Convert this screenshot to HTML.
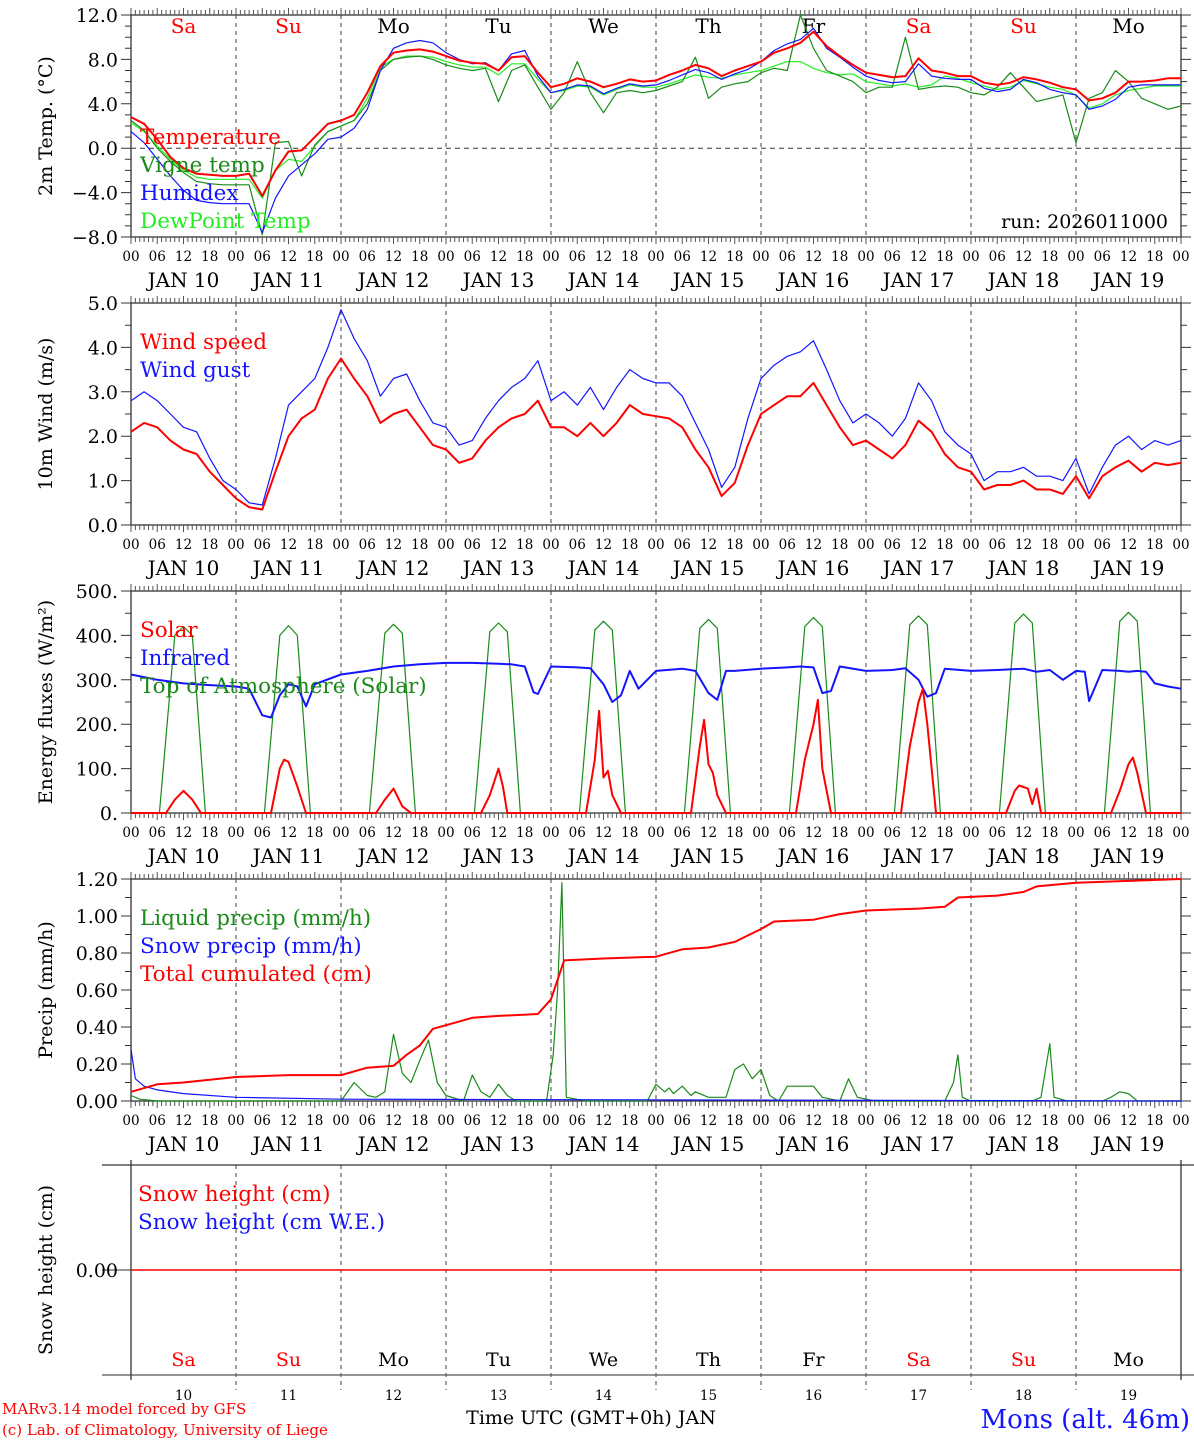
<!DOCTYPE html>
<html><head><meta charset="utf-8"><style>
html,body{margin:0;padding:0;background:#fff;width:1194px;height:1440px;overflow:hidden}
svg{display:block;font-family:"DejaVu Serif","Liberation Serif",serif}
</style></head><body>
<svg id="c" width="1194" height="1440" viewBox="0 0 1194 1440"></svg>
<script>
// ---------- data ----------
const days = ["10","11","12","13","14","15","16","17","18","19"];
const dayNames = ["Sa","Su","Mo","Tu","We","Th","Fr","Sa","Su","Mo"];
const dayColors = ["#f00","#f00","#000","#000","#000","#000","#000","#f00","#f00","#000"];
// temperature, 3-hourly from JAN 10 00 UTC (81 values)
const tempT = [2.8,2.2,0.8,-0.8,-1.8,-2.3,-2.4,-2.5, -2.5,-2.3,-4.3,-2.0,-0.3,-0.2,1.0,2.2, 2.5,3.0,5.0,7.4,8.6,8.8,8.9,8.7, 8.3,7.9,7.7,7.6,7.0,8.2,8.3,6.8, 5.5,5.8,6.3,6.0,5.5,5.8,6.2,6.0, 6.1,6.6,7.0,7.5,7.2,6.5,7.0,7.4, 7.8,8.6,9.0,9.5,10.5,9.2,8.3,7.5, 6.8,6.6,6.4,6.5,8.1,7.0,6.8,6.5, 6.5,5.9,5.7,5.9,6.4,6.2,5.9,5.5, 5.3,4.3,4.5,5.0,6.0,6.0,6.1,6.3,6.3];
const tempVigne = [2.5,1.6,0.0,-1.2,-2.2,-3.0,-3.2,-3.3, -3.3,-3.3,-7.8,0.5,0.6,-2.5,0.3,1.5, 2.0,2.5,4.0,7.0,8.0,8.2,8.3,8.0, 7.5,7.2,7.0,7.2,4.2,7.0,7.5,5.5, 3.5,5.0,7.8,5.0,3.2,5.0,5.2,5.0, 5.2,5.6,6.0,8.2,4.5,5.5,5.8,6.0, 6.8,7.2,7.0,12.0,9.0,7.0,6.5,6.0, 5.0,5.5,5.5,10.0,5.3,5.5,5.6,5.5, 5.0,4.8,5.5,6.8,5.5,4.2,4.5,4.8, 0.5,4.5,5.0,7.0,6.0,4.5,4.0,3.5,3.8];
const tempHumidex = [1.5,0.5,-1.0,-2.5,-3.8,-4.7,-4.9,-5.0, -5.0,-5.0,-7.6,-4.5,-2.5,-1.5,-0.5,0.8, 1.0,1.8,3.5,7.0,9.0,9.5,9.7,9.5, 8.6,8.0,7.6,7.7,7.0,8.5,8.8,6.5, 5.0,5.3,5.7,5.6,4.9,5.4,5.8,5.6, 5.7,6.1,6.6,7.1,6.8,6.2,6.7,7.1, 7.8,8.8,9.4,9.8,10.8,9.0,8.2,7.3, 6.5,6.1,5.9,6.0,7.6,6.5,6.3,6.2, 6.2,5.4,5.1,5.3,6.2,5.9,5.3,5.0, 4.8,3.5,3.8,4.4,5.5,5.7,5.7,5.7,5.7];
const tempDew = [2.3,1.5,0.2,-1.0,-2.0,-2.6,-2.8,-2.8, -2.8,-2.8,-4.5,-2.0,-1.0,-1.2,0.2,1.5, 2.0,2.5,4.5,7.3,8.0,8.3,8.3,8.2, 7.8,7.5,7.3,7.3,6.6,7.6,7.6,6.2, 5.0,5.2,5.6,5.5,4.8,5.3,5.7,5.5, 5.5,5.8,6.2,6.6,6.4,6.3,6.6,6.8, 7.0,7.4,7.8,7.8,7.2,6.8,6.6,6.7, 6.0,5.8,5.6,5.8,5.5,5.7,6.5,6.3, 5.9,5.6,5.3,5.5,6.1,5.8,5.5,5.3, 4.8,3.6,4.0,4.8,5.2,5.4,5.6,5.6,5.6];
// wind, 3-hourly
const windSpeed = [2.1,2.3,2.2,1.9,1.7,1.6,1.2,0.9, 0.6,0.4,0.35,1.2,2.0,2.4,2.6,3.3, 3.75,3.3,2.9,2.3,2.5,2.6,2.2,1.8, 1.7,1.4,1.5,1.9,2.2,2.4,2.5,2.8, 2.2,2.2,2.0,2.3,2.0,2.3,2.7,2.5, 2.45,2.4,2.2,1.7,1.3,0.65,0.95,1.8, 2.5,2.7,2.9,2.9,3.2,2.7,2.2,1.8, 1.9,1.7,1.5,1.8,2.35,2.1,1.6,1.3, 1.2,0.8,0.9,0.9,1.0,0.8,0.8,0.7, 1.1,0.6,1.1,1.3,1.45,1.2,1.4,1.35,1.4];
const windGust = [2.8,3.0,2.8,2.5,2.2,2.1,1.5,1.0, 0.8,0.5,0.45,1.5,2.7,3.0,3.3,4.0, 4.85,4.2,3.7,2.9,3.3,3.4,2.8,2.3, 2.2,1.8,1.9,2.4,2.8,3.1,3.3,3.7, 2.8,3.0,2.7,3.1,2.6,3.1,3.5,3.3, 3.2,3.2,2.9,2.3,1.7,0.85,1.3,2.4, 3.3,3.6,3.8,3.9,4.15,3.5,2.8,2.3, 2.5,2.3,2.0,2.4,3.2,2.8,2.1,1.8, 1.6,1.0,1.2,1.2,1.3,1.1,1.1,1.0, 1.5,0.7,1.3,1.8,2.0,1.7,1.9,1.8,1.9];
// energy fluxes: hours since JAN 10 00 and values
const toaHours = [0,6.5,10,12,14,17, 30.5,34,36,38,41, 54.5,58,60,62,65, 78.5,82,84,86,89, 102.5,106,108,110,113, 126.5,130,132,134,137, 150.5,154,156,158,161, 174.5,178,180,182,185, 198.5,202,204,206,209, 222.5,226,228,230,233, 240];
const toaVals = [0,0,400,420,400,0, 0,400,422,400,0, 0,405,425,405,0, 0,408,428,408,0, 0,412,432,412,0, 0,416,436,416,0, 0,420,440,420,0, 0,424,444,424,0, 0,428,448,428,0, 0,432,452,432,0, 0];
const solarHours = [0,8,10,12,14,16, 32,34,35,36,38,40, 56,58,60,62,64, 80,82,84,85,86, 104,106,107,108,109,110,112, 128,130,131,132,133,134,136, 152,154,156,157,158,160, 176,178,180,181,182,184, 200,202,203,205,206,207,208, 224,226,228,229,230,232, 240];
const solarVals = [0,0,30,50,30,0, 0,100,120,115,60,0, 0,30,55,15,0, 0,40,100,60,0, 0,120,230,80,95,40,0, 0,150,210,110,90,40,0, 0,120,200,255,100,0, 0,150,250,280,200,0, 0,50,62,55,20,55,0, 0,50,110,125,90,0, 0];
const irHours = [0,6,12,18,24,27,30,32,34,36,38,40,42,48,54,60,66,72,78,84,87,90,92,93,96,102,105,108,110,112,114,116,120,126,129,132,134,136,138,144,150,153,156,158,160,162,168,174,177,180,182,184,186,192,198,204,207,210,213,216,218,219,222,226,228,230,232,234,237,240];
const irVals = [312,300,292,288,285,280,220,215,265,290,285,240,290,312,320,330,335,338,338,336,335,330,272,268,330,328,326,290,250,265,320,280,320,325,320,270,255,320,320,325,328,330,328,270,275,330,320,322,326,300,262,270,325,320,322,325,318,322,300,320,318,252,322,320,318,320,318,292,285,280];
// precipitation: hours and values
const liquidHours = [0,2,6,48,51,54,56,58,60,62,64,66,68,70,72,76,78,80,82,84,86,88,95,96.5,97.5,98.5,99.5,104,118,120,122,123,124,126,128,129,132,136,138,140,142,144,146,148,150,156,158,162,164,166,170,186,188,189,190,192,206,208,210,211,214,222,224,226,228,230,240];
const liquidVals = [0.03,0.01,0,0,0.1,0.03,0.02,0.05,0.36,0.15,0.1,0.22,0.33,0.1,0.03,0,0.14,0.05,0.02,0.09,0.03,0,0,0.25,0.6,1.18,0.02,0,0,0.09,0.05,0.07,0.04,0.08,0.03,0.05,0.02,0.02,0.17,0.2,0.12,0.17,0.03,0,0.08,0.08,0.02,0,0.12,0.02,0,0,0.1,0.25,0.02,0,0,0.02,0.31,0.02,0,0,0.02,0.05,0.04,0,0];
const snowHours = [0,1,3,6,12,24,48,240];
const snowVals = [0.28,0.12,0.08,0.06,0.04,0.02,0.01,0.0];
const cumHours = [0,6,12,24,36,48,54,60,63,66,69,72,78,84,93,96,99,108,120,126,132,138,144,147,156,162,168,180,186,189,198,204,207,216,228,240];
const cumVals = [0.05,0.09,0.10,0.13,0.14,0.14,0.18,0.19,0.25,0.30,0.39,0.41,0.45,0.46,0.47,0.55,0.76,0.77,0.78,0.82,0.83,0.86,0.93,0.97,0.98,1.01,1.03,1.04,1.05,1.10,1.11,1.13,1.16,1.18,1.19,1.20];
const snowHeightHours = [0,240];
const snowHeightVals = [0,0];

// ---------- drawing ----------
const svg = document.getElementById('c');
const NS = 'http://www.w3.org/2000/svg';
const X0 = 131, X1 = 1181;
function x(h){ return X0 + (X1 - X0) * h / 240; }
function mk(tag, attrs, parent){ const e = document.createElementNS(NS, tag); for (const k in attrs) e.setAttribute(k, attrs[k]); (parent||svg).appendChild(e); return e; }
function txt(s, ax, ay, attrs, name){ const t = mk('text', Object.assign({x:ax, y:ay}, attrs)); t.textContent = s;
  
  
  return t; }

const panels = [
  {name:'temperature', top:15, bot:237, min:-8, max:12, ticks:[-8,-4,0,4,8,12], fmt:v=>(v<0?'\u2212'+Math.abs(v).toFixed(1):v.toFixed(1)), minor:1, title:'2m Temp. (\u00B0C)'},
  {name:'wind', top:303, bot:525, min:0, max:5, ticks:[0,1,2,3,4,5], fmt:v=>v.toFixed(1), minor:0.5, title:'10m Wind (m/s)'},
  {name:'energy', top:591, bot:813, min:0, max:500, ticks:[0,100,200,300,400,500], fmt:v=>String(v)+'.', minor:50, title:'Energy fluxes (W/m\u00B2)'},
  {name:'precip', top:879, bot:1101, min:0, max:1.2, ticks:[0,0.2,0.4,0.6,0.8,1.0,1.2], fmt:v=>v.toFixed(2), minor:0.1, title:'Precip (mm/h)'},
];
function yf(p){ return v => p.bot - (p.bot - p.top) * (v - p.min) / (p.max - p.min); }

panels.forEach((p, pi) => {
  const g = mk('g', {});
  
  
  const y = yf(p);
  for (let d = 1; d < 10; d++) mk('line', {x1:x(d*24), x2:x(d*24), y1:p.top, y2:p.bot, stroke:'#444', 'stroke-width':1, 'stroke-dasharray':'4,4'}, g);
  mk('rect', {x:X0, y:p.top, width:X1-X0, height:p.bot-p.top, fill:'none', stroke:'#333', 'stroke-width':1.3}, g);
  let d = '';
  for (let h = 0; h <= 240; h++) { const L = h%6===0 ? 7 : 5; d += `M${x(h)},${p.top}v${-L}M${x(h)},${p.bot}v${L}`; }
  mk('path', {d, stroke:'#555', 'stroke-width':1, fill:'none'}, g);
  let dy = '';
  for (let v = p.min; v <= p.max + 1e-9; v += p.minor) { dy += `M${X0},${y(v)}h-6M${X1},${y(v)}h6`; }
  p.ticks.forEach(v => { dy += `M${X0},${y(v)}h-10M${X1},${y(v)}h10`; });
  mk('path', {d:dy, stroke:'#333', 'stroke-width':1, fill:'none'}, g);
  p.ticks.forEach(v => txt(p.fmt(v), 118, y(v)+7, {'font-size':19, 'text-anchor':'end', fill:'#000'}, p.name+'-y-tick'));
  for (let h = 0; h <= 240; h += 6) txt(String(h%24).padStart(2,'0'), x(h), p.bot+24, {'font-size':13.5, 'text-anchor':'middle', fill:'#000'}, 'x-tick-label');
  days.forEach((dd, i) => txt('JAN ' + dd, x(i*24+12), p.bot+50, {'font-size':20, 'text-anchor':'middle', fill:'#000'}, 'day-label'));
  const ty = (p.top + p.bot)/2;
  txt(p.title, 52, ty, {'font-size':19, 'text-anchor':'middle', fill:'#000', transform:`rotate(-90 52 ${ty})`}, p.name+'-y-axis-title');
  p.g = g; p.y = y;
});

function line(pi, xs, ys, color, w, name){
  const p = panels[pi];
  const pts = xs.map((h, i) => x(h).toFixed(1) + ',' + p.y(ys[i]).toFixed(1)).join(' ');
  const e = mk('polyline', {points:pts, fill:'none', stroke:color, 'stroke-width':w, 'stroke-linejoin':'round'});
  
  
  return e;
}
const h3 = tempT.map((_, i) => i*3);
const LF = 21.5;

// panel 1
mk('line', {x1:X0, x2:X1, y1:panels[0].y(0), y2:panels[0].y(0), stroke:'#333', 'stroke-dasharray':'5,4'});
dayNames.forEach((n, i) => txt(n, x(i*24+12), 33, {'font-size':20, 'text-anchor':'middle', fill:dayColors[i]}, 'weekday-label'));
line(0, h3, tempDew, '#22ee22', 1.2, 'dewpoint-line');
line(0, h3, tempVigne, '#1a8a1a', 1.2, 'vigne-temp-line');
line(0, h3, tempHumidex, '#1414ff', 1.2, 'humidex-line');
line(0, h3, tempT, '#ff0000', 2, 'temperature-line');
txt('Temperature', 140, 144, {'font-size':LF, fill:'#f00'}, 'legend-temperature');
txt('Vigne temp', 140, 172, {'font-size':LF, fill:'#1a8a1a'}, 'legend-vigne');
txt('Humidex', 140, 200, {'font-size':LF, fill:'#1414ff'}, 'legend-humidex');
txt('DewPoint Temp', 140, 228, {'font-size':LF, fill:'#22ee22'}, 'legend-dewpoint');
txt('run: 2026011000', 1168, 228, {'font-size':19, 'text-anchor':'end', fill:'#000'}, 'run-label');

// panel 2
line(1, h3, windGust, '#1414ff', 1.2, 'wind-gust-line');
line(1, h3, windSpeed, '#ff0000', 2, 'wind-speed-line');
txt('Wind speed', 140, 349, {'font-size':LF, fill:'#f00'}, 'legend-wind-speed');
txt('Wind gust', 140, 377, {'font-size':LF, fill:'#1414ff'}, 'legend-wind-gust');

// panel 3
line(2, toaHours, toaVals, '#1a8a1a', 1.2, 'toa-solar-line');
line(2, irHours, irVals, '#1414ff', 2, 'infrared-line');
line(2, solarHours, solarVals, '#ff0000', 2, 'solar-line');
txt('Solar', 140, 637, {'font-size':LF, fill:'#f00'}, 'legend-solar');
txt('Infrared', 140, 665, {'font-size':LF, fill:'#1414ff'}, 'legend-infrared');
txt('Top of Atmosphere (Solar)', 140, 693, {'font-size':LF, fill:'#1a8a1a'}, 'legend-toa');

// panel 4
line(3, liquidHours, liquidVals, '#1a8a1a', 1.2, 'liquid-precip-line');
line(3, snowHours, snowVals, '#1414ff', 1.2, 'snow-precip-line');
line(3, cumHours, cumVals, '#ff0000', 2, 'cumulated-precip-line');
txt('Liquid precip (mm/h)', 140, 925, {'font-size':LF, fill:'#1a8a1a'}, 'legend-liquid');
txt('Snow precip (mm/h)', 140, 953, {'font-size':LF, fill:'#1414ff'}, 'legend-snow');
txt('Total cumulated (cm)', 140, 981, {'font-size':LF, fill:'#f00'}, 'legend-cumulated');

// panel 5 (snow height)
const s5 = mk('g', {});


for (let dd = 1; dd < 10; dd++) mk('line', {x1:x(dd*24), x2:x(dd*24), y1:1165, y2:1390, stroke:'#444', 'stroke-dasharray':'4,4'}, s5);
mk('line', {x1:102, x2:1194, y1:1165, y2:1165, stroke:'#333', 'stroke-width':1.3}, s5);
mk('line', {x1:102, x2:1194, y1:1375, y2:1375, stroke:'#555', 'stroke-width':1.3}, s5);
mk('line', {x1:X0, x2:X0, y1:1160, y2:1380, stroke:'#333', 'stroke-width':1.3}, s5);
mk('line', {x1:X1, x2:X1, y1:1160, y2:1380, stroke:'#333', 'stroke-width':1.3}, s5);
mk('line', {x1:102, x2:X0, y1:1270, y2:1270, stroke:'#333'}, s5);
txt('0.00', 118, 1277, {'font-size':19, 'text-anchor':'end', fill:'#000'}, 'snow-y-tick');
const ySnow = v => 1270 - v * 100;
const sp = mk('polyline', {points:snowHeightHours.map((h,i)=>x(h)+','+ySnow(snowHeightVals[i])).join(' '), fill:'none', stroke:'#ff0000', 'stroke-width':1.5});


txt('Snow height (cm)', 138, 1201, {'font-size':LF, fill:'#f00'}, 'legend-snow-height');
txt('Snow height (cm W.E.)', 138, 1229, {'font-size':LF, fill:'#1414ff'}, 'legend-snow-we');
txt('Snow height (cm)', 52, 1270, {'font-size':19, 'text-anchor':'middle', fill:'#000', transform:'rotate(-90 52 1270)'}, 'snow-y-axis-title');
dayNames.forEach((n, i) => txt(n, x(i*24+12), 1366, {'font-size':19, 'text-anchor':'middle', fill:dayColors[i]}, 'weekday-label-bottom'));
days.forEach((dd, i) => txt(dd, x(i*24+12), 1400, {'font-size':13.5, 'text-anchor':'middle', fill:'#000'}, 'day-number'));

// footer
txt('MARv3.14 model forced by GFS', 2, 1414, {'font-size':15, fill:'#f00'}, 'model-credit');
txt('(c) Lab. of Climatology, University of Liege', 2, 1435, {'font-size':15, fill:'#f00'}, 'lab-credit');
txt('Time UTC (GMT+0h) JAN', 591, 1424, {'font-size':19, 'text-anchor':'middle', fill:'#000'}, 'x-axis-title');
txt('Mons (alt. 46m)', 1190, 1428, {'font-size':26, 'text-anchor':'end', fill:'#1414ff'}, 'location-label');
</script>
</body></html>
